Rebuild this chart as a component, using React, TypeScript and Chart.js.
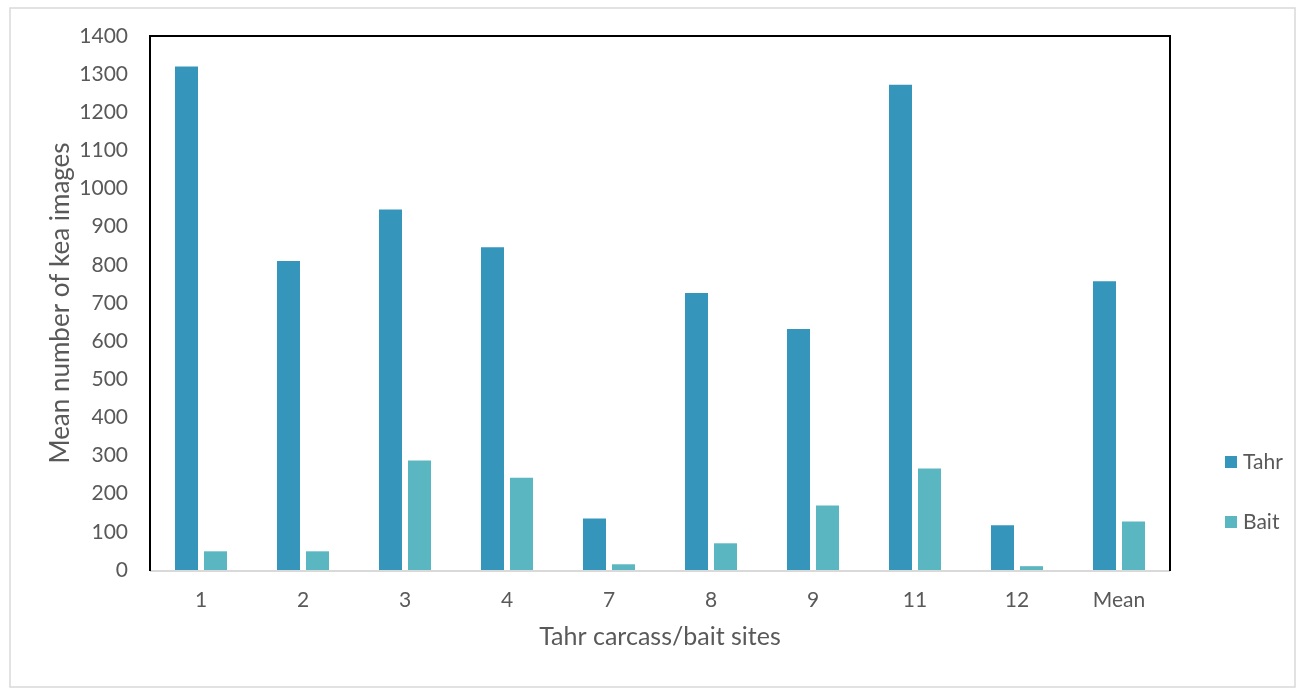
import React, { useEffect, useRef } from "react";
import { Chart, registerables } from "chart.js";

Chart.register(...registerables);

const categories = ["1", "2", "3", "4", "7", "8", "9", "11", "12", "Mean"];
const tahrValues = [1320, 810, 945, 846, 135, 726, 632, 1272, 117, 757];
const baitValues = [49, 49, 287, 242, 15, 70, 169, 266, 10, 127];
const seriesNames = ["Tahr", "Bait"];
const seriesColors = ["#3595bb", "#5ab6c0"];
const yMin = 0;
const yMax = 1400;
const yStep = 100;
const xTitle = "Tahr carcass/bait sites";
const yTitle = "Mean number of kea images";

const FONT = "Lato, 'Open Sans', sans-serif";
const TEXT = "#595959";

const framePlugin = {
  id: "frame",
  beforeDraw(chart: any) {
    const ctx = chart.ctx;
    ctx.save();
    ctx.fillStyle = "#ffffff";
    ctx.fillRect(0, 0, chart.width, chart.height);
    ctx.strokeStyle = "#d9d9d9";
    ctx.lineWidth = 1.5;
    ctx.strokeRect(10, 8, 1285, 679);
    ctx.restore();
  },
  afterDatasetsDraw(chart: any) {
    const { ctx, chartArea } = chart;
    const { left, right, top, bottom } = chartArea;
    ctx.save();
    ctx.lineWidth = 2;
    ctx.strokeStyle = "#d9d9d9";
    ctx.beginPath();
    ctx.moveTo(left, bottom + 1);
    ctx.lineTo(right, bottom + 1);
    ctx.stroke();
    ctx.strokeStyle = "#000000";
    ctx.beginPath();
    ctx.moveTo(left, bottom + 1);
    ctx.lineTo(left, top);
    ctx.lineTo(right, top);
    ctx.lineTo(right, bottom + 1);
    ctx.stroke();
    ctx.restore();
  },
  afterDraw(chart: any) {
    const ctx = chart.ctx;
    ctx.save();
    ctx.font = `21px ${FONT}`;
    ctx.textBaseline = "middle";
    ctx.textAlign = "left";
    chart.data.datasets.forEach((ds: any, i: number) => {
      const y = 462 + i * 60;
      ctx.fillStyle = ds.backgroundColor;
      ctx.fillRect(1225, y - 6, 12, 12);
      ctx.fillStyle = TEXT;
      ctx.fillText(ds.label, 1243, y);
    });
    ctx.restore();
  },
};

export default function App() {
  const canvasRef = useRef<HTMLCanvasElement | null>(null);

  useEffect(() => {
    if (!canvasRef.current) return;
    const chart = new Chart(canvasRef.current, {
      type: "bar",
      data: {
        labels: categories,
        datasets: [
          {
            label: seriesNames[0],
            data: tahrValues,
            backgroundColor: seriesColors[0],
            categoryPercentage: 0.569,
            barPercentage: 0.793,
          },
          {
            label: seriesNames[1],
            data: baitValues,
            backgroundColor: seriesColors[1],
            categoryPercentage: 0.569,
            barPercentage: 0.793,
          },
        ],
      },
      options: {
        responsive: false,
        animation: false,
        devicePixelRatio: 1,
        layout: { padding: { left: 0, top: 36, right: 137, bottom: 0 } },
        plugins: {
          legend: { display: false },
          tooltip: { enabled: false },
        },
        scales: {
          x: {
            grid: { display: false, drawTicks: false },
            border: { display: false },
            ticks: {
              color: TEXT,
              font: { family: FONT, size: 21 },
              padding: 18,
              maxRotation: 0,
            },
            title: {
              display: true,
              text: xTitle,
              color: TEXT,
              font: { family: FONT, size: 25 },
              padding: { top: 0, bottom: 46 },
            },
            afterFit(scale: any) {
              scale.height = 128;
            },
          },
          y: {
            min: yMin,
            max: yMax,
            grid: { display: false, drawTicks: false },
            border: { display: false },
            ticks: {
              stepSize: yStep,
              autoSkip: false,
              color: TEXT,
              font: { family: FONT, size: 21 },
              padding: 22,
              callback: (v: any) => String(v),
            },
            title: {
              display: true,
              text: yTitle,
              color: TEXT,
              font: { family: FONT, size: 26 },
              padding: { top: 45, bottom: 0 },
            },
            afterFit(scale: any) {
              scale.width = 150;
            },
          },
        },
      },
      plugins: [framePlugin],
    });
    return () => chart.destroy();
  }, []);

  return (
    <div style={{ position: "fixed", left: 0, top: 0, width: 1307, height: 698 }}>
      <canvas ref={canvasRef} width={1307} height={698} />
    </div>
  );
}
